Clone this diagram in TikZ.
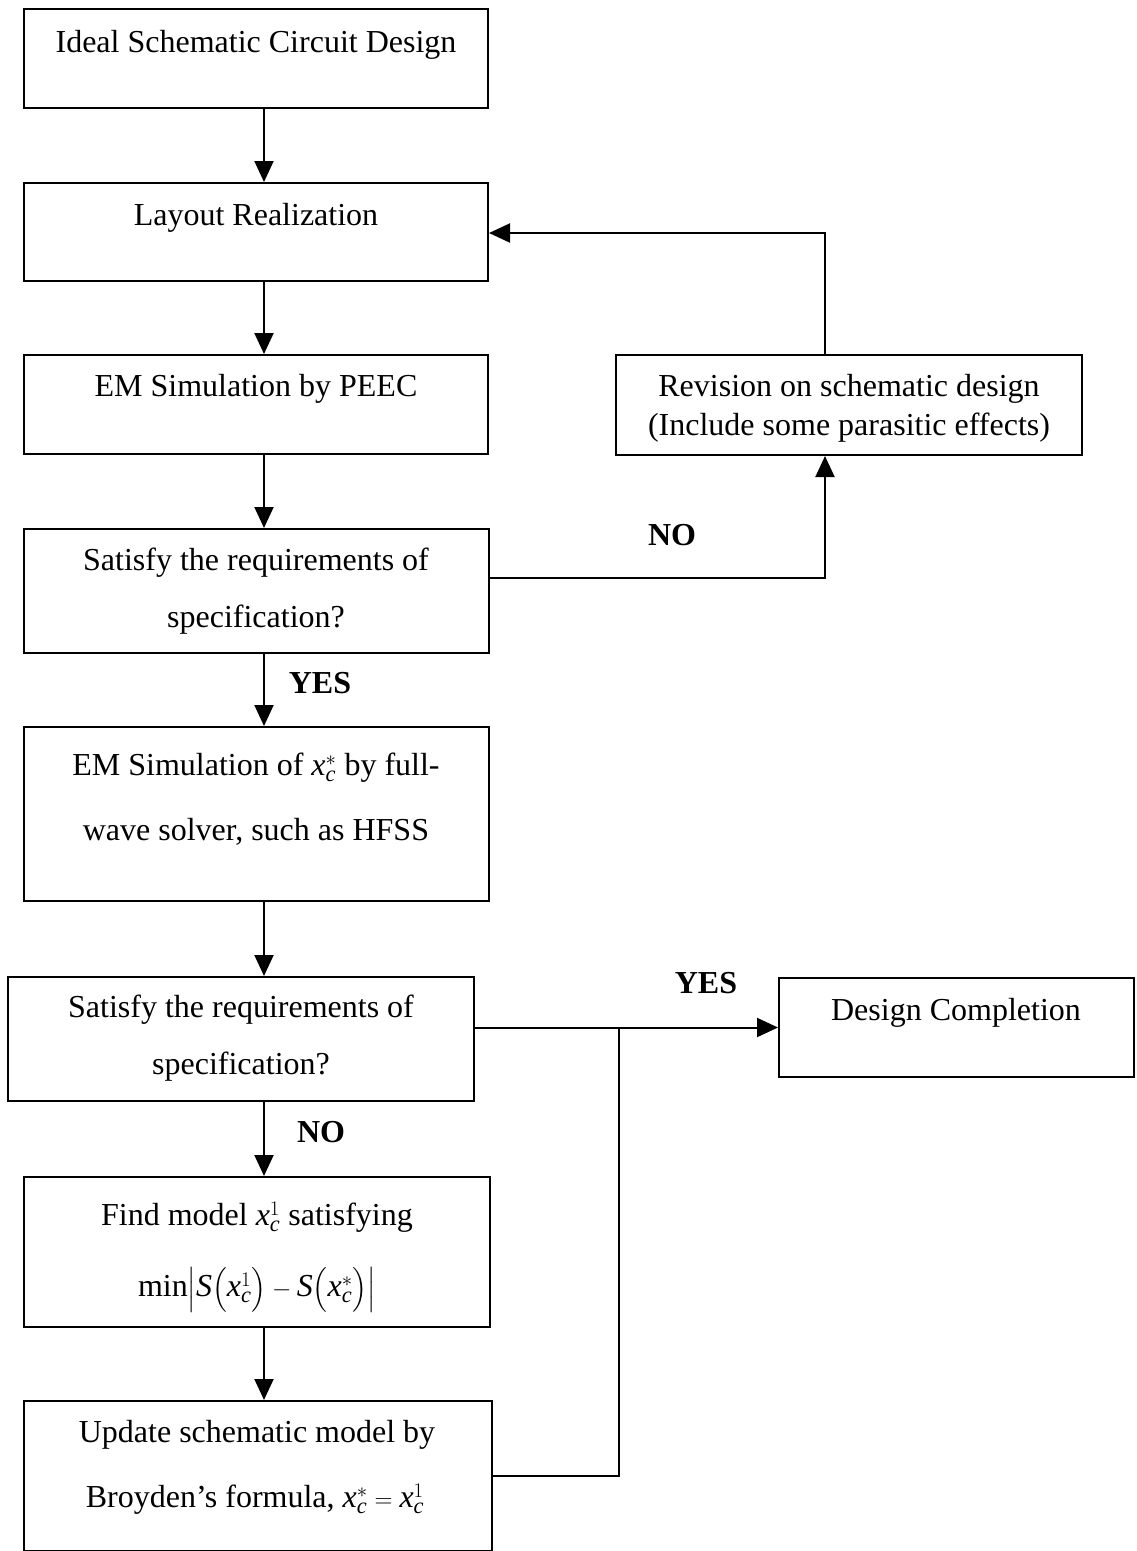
\documentclass[tikz,border=0pt]{standalone}
\usepackage{amsmath}
\usepackage{fontspec}
\setmainfont{Liberation Serif}
\usetikzlibrary{arrows.meta}
\newcommand{\myxc}[1]{\mathit{x}_{\mathit{c}}^{#1}}
\begin{document}
\begin{tikzpicture}[x=1pt,y=-1pt,
  box/.style={draw=black,line width=2pt,inner sep=0pt,rectangle},
  txt/.style={anchor=base,inner sep=0pt,font=\fontsize{32}{38}\selectfont},
  lbl/.style={anchor=base,inner sep=0pt,font=\fontsize{32}{38}\selectfont\bfseries},
  arr/.style={line width=2pt,-{Triangle[length=21pt,width=19pt]}},
  ln/.style={line width=2pt}]
\useasboundingbox (0,0) rectangle (1136,1551);
\fill[white] (0,0) rectangle (1136,1551);
% boxes
\node[box,minimum width=464pt,minimum height=99pt] (b1) at (256,58.5) {};
\node[box,minimum width=464pt,minimum height=98pt] (b2) at (256,232) {};
\node[box,minimum width=464pt,minimum height=99pt] (b3) at (256,404.5) {};
\node[box,minimum width=465pt,minimum height=124pt] (b4) at (256.5,591) {};
\node[box,minimum width=465pt,minimum height=174pt] (b5) at (256.5,814) {};
\node[box,minimum width=466pt,minimum height=124pt] (b6) at (241,1039) {};
\node[box,minimum width=466pt,minimum height=150pt] (b7) at (257,1252) {};
\node[box,minimum width=468pt,minimum height=150pt] (b8) at (258,1476) {};
\node[box,minimum width=466pt,minimum height=100pt] (rev) at (849,405) {};
\node[box,minimum width=355pt,minimum height=99pt] (dc) at (956.5,1027.5) {};
% texts
\node[txt] (t1) at (256,52) {Ideal Schematic Circuit Design};
\node[txt] (t2) at (256,225) {Layout Realization};
\node[txt] (t3) at (256,396) {EM Simulation by PEEC};
\node[txt] (t4a) at (256,570) {Satisfy the requirements of};
\node[txt] (t4b) at (256,627) {specification?};
\node[txt] (t5a) at (256,775) {EM Simulation of \(\myxc{*}\) by full-};
\node[txt] (t5b) at (256,840) {wave solver, such as HFSS};
\node[txt] (t6a) at (241,1017) {Satisfy the requirements of};
\node[txt] (t6b) at (241,1074) {specification?};
\node[txt] (t7a) at (257,1225) {Find model \(\myxc{1}\) satisfying};
\node[txt] (t7b) at (257,1296) {\(\mathrm{min}\Bigl|\mathit{S}\Bigl(\myxc{1}\Bigr)-\mathit{S}\Bigl(\myxc{*}\Bigr)\Bigr|\)};
\node[txt] (t8a) at (257,1442) {Update schematic model by};
\node[txt] (t8b) at (255,1507) {Broyden’s formula, \(\myxc{*}=\myxc{1}\)};
\node[txt] (tra) at (849,396) {Revision on schematic design};
\node[txt] (trb) at (849,435) {(Include some parasitic effects)};
\node[txt] (tdc) at (956,1020) {Design Completion};
% labels
\node[lbl] (no1) at (672,545) {NO};
\node[lbl] (yes1) at (320,693) {YES};
\node[lbl] (yes2) at (706,993) {YES};
\node[lbl] (no2) at (321,1142) {NO};
% helper coordinates
\coordinate (ax) at (264,0);
\coordinate (lx) at (825,0);
\coordinate (ny) at (0,578);
\coordinate (ry) at (0,233);
\coordinate (jx) at (619,0);
% main flow
\draw[arr] (ax |- b1.south) -- (ax |- b2.north);
\draw[arr] (ax |- b2.south) -- (ax |- b3.north);
\draw[arr] (ax |- b3.south) -- (ax |- b4.north);
\draw[arr] (ax |- b4.south) -- (ax |- b5.north);
\draw[arr] (ax |- b5.south) -- (ax |- b6.north);
\draw[arr] (ax |- b6.south) -- (ax |- b7.north);
\draw[arr] (ax |- b7.south) -- (ax |- b8.north);
% loop
\draw[arr] (b4.east |- ny) -| (lx |- rev.south);
\draw[arr] (lx |- rev.north) |- (b2.east |- ry);
% completion
\draw[arr] (b6.east |- dc.west) -- (dc.west);
\draw[ln] (b8.east) -| (jx |- dc.west);
\end{tikzpicture}
\end{document}
